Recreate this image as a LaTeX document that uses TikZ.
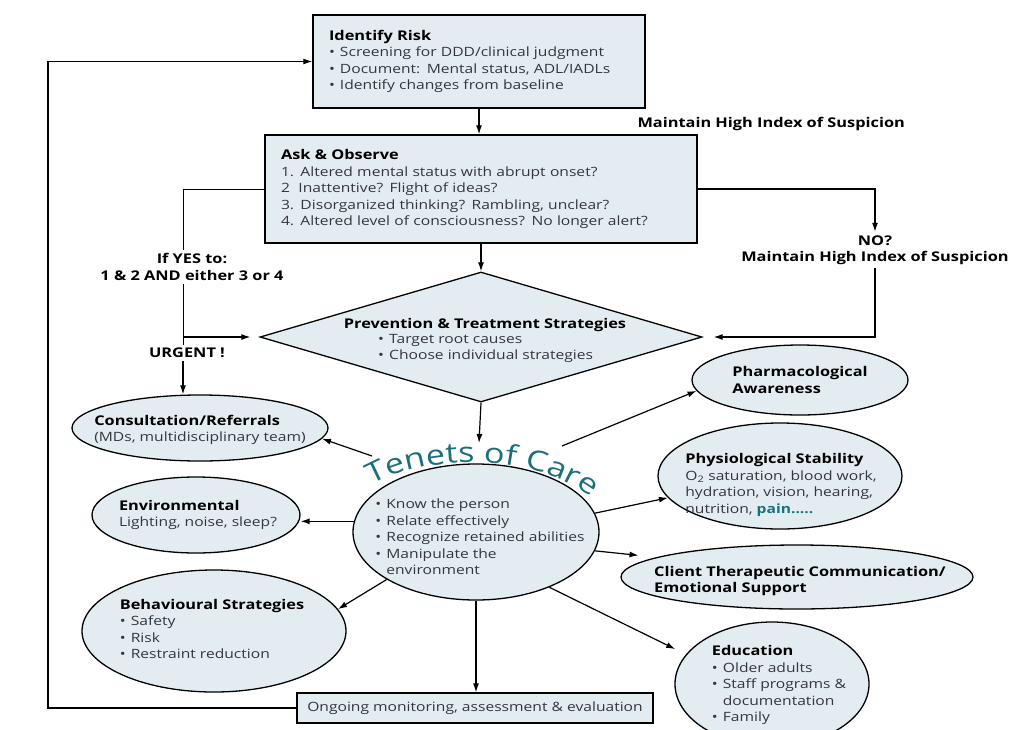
\documentclass[tikz,border=0pt]{standalone}
\usepackage{fontspec}
\setmainfont{Open Sans}[FakeStretch=1.22]
\usepackage{xcolor}
\usetikzlibrary{positioning, shapes.geometric, arrows.meta, calc, decorations.text}
\definecolor{dlfill}{HTML}{E3EDF1}
\definecolor{dlteal}{HTML}{1B6F7A}
\definecolor{dltext}{HTML}{35353F}

\newcommand{\hd}[1]{{\fontsize{13.4}{16.5}\selectfont\bfseries\color{black}#1}}
\newcommand{\bul}{\makebox[11pt][l]{\textbullet}}
\newcommand{\hang}{\hspace*{11pt}}

\begin{document}
\begin{tikzpicture}[x=1pt, y=-1pt,
    flowbox/.style={draw, line width=1.3pt, fill=dlfill, text=dltext, align=left,
                    font=\fontsize{12.8}{16.5}\selectfont, inner xsep=16pt},
    oval/.style={ellipse, draw, line width=1.3pt, fill=dlfill, inner sep=0pt},
    body/.style={text=dltext, align=left, inner sep=0pt, font=\fontsize{12.8}{16.5}\selectfont},
    lbl/.style={font=\bfseries\fontsize{13.4}{16.5}\selectfont, align=center},
    arr/.style={-{Latex[length=9pt,width=6pt]}, line width=1.2pt}]
  \useasboundingbox (0,0) rectangle (1015,729);

  % top of the flow
  \node[flowbox, text width=300pt, minimum height=93pt] (risk) at (479,61.5)
    {\hd{Identify Risk}\\
     \bul Screening for DDD/clinical judgment\\
     \bul Document: Mental status, ADL/IADLs\\
     \bul Identify changes from baseline};
  \node[lbl, anchor=west] (maintop) at (634,124) {Maintain High Index of Suspicion};
  \node[flowbox, text width=400pt, minimum height=108pt] (ask) at (481,189)
    {\hd{Ask \& Observe}\\
     1. Altered mental status with abrupt onset?\\
     2\ \ Inattentive? Flight of ideas?\\
     3. Disorganized thinking? Rambling, unclear?\\
     4. Altered level of consciousness? No longer alert?};

  % decision
  \node[diamond, draw, line width=1.3pt, fill=dlfill, minimum width=442pt,
        minimum height=130pt, inner sep=0pt] (prev) at (481,337) {};
  \node[lbl] (prevhd) at (485,325) {Prevention \& Treatment Strategies};
  \node[body, anchor=north west] (prevlist) at (378,334)
    {\bul Target root causes\\ \bul Choose individual strategies};

  \node[lbl] (yes) at (192,267) {If YES to:\\1 \& 2 AND either 3 or 4};
  \node[lbl] (urgent) at (187,353) {URGENT !};
  \node[lbl] (no) at (875,250) {NO?\\Maintain High Index of Suspicion};
  \coordinate (yesx) at (183,0);
  \coordinate (nox) at (875,0);
  \coordinate (loopx) at (48,0);

  % tenets of care
  \node[oval, minimum width=246pt, minimum height=136pt] (tenets) at (476,532) {};
  \path[decorate, decoration={text along path, text align=center, text color=dlteal,
        text={|\fontsize{28}{28}\selectfont|Tenets of Care}}]
    (340,515) .. controls (380,445) and (570,440) .. (620,530);
  \coordinate (tenetstop) at (479,443);
  \coordinate (tenetsl) at (372,456);
  \coordinate (tenetsr) at (562,446);
  \node[body] (tenetslist) at (480,537)
    {\bul Know the person\\ \bul Relate effectively\\ \bul Recognize retained abilities\\
     \bul Manipulate the\\ \hang environment};

  % left ovals
  \node[oval, minimum width=256pt, minimum height=66pt] (consult) at (200,428) {};
  \node[body] (consulttxt) at (200,430)
    {\hd{Consultation/Referrals}\\(MDs, multidisciplinary team)};
  \node[oval, minimum width=208pt, minimum height=76pt] (env) at (196,515) {};
  \node[body] (envtxt) at (198,515) {\hd{Environmental}\\Lighting, noise, sleep?};
  \node[oval, minimum width=264pt, minimum height=122pt] (behav) at (214,631) {};
  \node[body] (behavtxt) at (212,629)
    {\hd{Behavioural Strategies}\\ \bul Safety\\ \bul Risk\\ \bul Restraint reduction};

  % right ovals
  \node[oval, minimum width=216pt, minimum height=70pt] (pharma) at (800,380) {};
  \node[body] (pharmatxt) at (800,380) {\hd{Pharmacological}\\\hd{Awareness}};
  \node[oval, minimum width=244pt, minimum height=106pt] (physio) at (780,476) {};
  \node[body] (physiotxt) at (781,485)
    {\hd{Physiological Stability}\\ O\textsubscript{2} saturation, blood work,\\
     hydration, vision, hearing,\\ nutrition, \textcolor{dlteal}{\bfseries pain.....}};
  \node[oval, minimum width=352pt, minimum height=64pt] (client) at (797,577) {};
  \node[body] (clienttxt) at (800,581)
    {\hd{Client Therapeutic Communication/}\\\hd{Emotional Support}};
  \node[oval, minimum width=194pt, minimum height=124pt] (educ) at (772,684) {};
  \node[body] (eductxt) at (779,685)
    {\hd{Education}\\ \bul Older adults\\ \bul Staff programs \&\\ \hang documentation\\ \bul Family};

  \node[flowbox, font=\fontsize{12.8}{15}\selectfont, inner xsep=8pt, inner ysep=0pt,
        minimum width=356pt, minimum height=30pt, align=center] (ongoing) at (475,708)
    {Ongoing monitoring, assessment \& evaluation};

  % connectors
  \draw[arr] (risk.south) -- (risk.south |- ask.north);
  \draw[arr] (prev.north |- ask.south) -- (prev.north);
  \draw (ask.west) -| (yesx |- yes.north);
  \draw (yesx |- yes.south) -- (yesx |- urgent.north);
  \draw[arr] (yesx |- prev.west) -- ([xshift=-9pt]prev.west);
  \draw[arr] (yesx |- urgent.south) -- (yesx |- consult.north);
  \draw[arr] (ask.east) -| (nox |- no.north);
  \draw[arr] (nox |- no.south) |- ([xshift=11pt]prev.east);
  \draw[arr] (prev.south) -- (tenetstop);

  \draw[arr] (tenetsl) -- (consult.-5);
  \draw[arr] (tenets.175) -- (tenets.175 -| env.east);
  \draw[arr] (tenets.208) -- (behav.10);
  \draw[arr] (tenetsr) -- (pharma.186);
  \draw[arr] (tenets.9) -- (physio.191);
  \draw[arr, shorten >=18pt] (tenets.-9) -- (client.172);
  \draw[arr, shorten >=12pt] (tenets.-37) -- (educ.161);
  \draw[arr] (tenets.south) -- (tenets.south |- ongoing.north);
  \draw[arr] (ongoing.west) -- (ongoing.west -| loopx) |- (risk.west);
\end{tikzpicture}
\end{document}
